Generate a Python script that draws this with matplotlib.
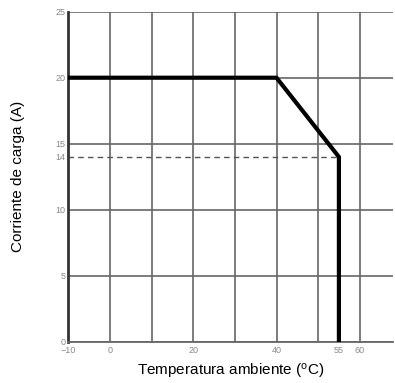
import matplotlib
matplotlib.use("Agg")
import matplotlib.pyplot as plt

plt.rcParams['font.family'] = ['Liberation Sans', 'DejaVu Sans']
plt.rcParams['mathtext.fontset'] = 'custom'
plt.rcParams['mathtext.rm'] = 'Liberation Sans'
plt.rcParams['mathtext.it'] = 'Liberation Sans'

# Data
curve_temp = [-10, 40, 55, 55]
curve_current = [20, 20, 14, 0]
dashed_level = 14
dashed_temp = [-10, 55]
x_grid = [-10, 0, 10, 20, 30, 40, 50, 60]
y_grid = [0, 5, 10, 15, 20, 25]
x_ticklabels = [-10, 0, 20, 40, 55, 60]
y_ticklabels = [0, 5, 10, 14, 15, 20, 25]

fig = plt.figure(figsize=(3.95, 3.83), dpi=100)
ax = fig.add_axes([0.1734, 0.1078, 0.8215, 0.8616])
ax.set_xlim(-10, 68)
ax.set_ylim(0, 25)

for xv in x_grid:
    ax.axvline(xv, color='#666666', lw=1.2, zorder=1)
for yv in y_grid:
    ax.axhline(yv, color='#666666', lw=1.2, zorder=1)

ax.plot(dashed_temp, [dashed_level, dashed_level], color='#555555', lw=1.0,
        dashes=(4, 3), zorder=2)
ax.plot(curve_temp, curve_current, color='black', lw=3.0, zorder=3,
        solid_joinstyle='miter')

for s in ['top', 'right']:
    ax.spines[s].set_visible(False)
ax.spines['left'].set_color('#333333')
ax.spines['left'].set_linewidth(2.0)
ax.spines['bottom'].set_color('#666666')
ax.spines['bottom'].set_linewidth(1.3)

ax.set_xticks(x_ticklabels)
ax.set_xticklabels([('\u2212' + str(abs(v))) if v < 0 else str(v) for v in x_ticklabels])
ax.set_yticks(y_ticklabels)
ax.set_yticklabels([str(v) for v in y_ticklabels])
ax.tick_params(axis='both', length=0, labelsize=6.5, labelcolor='#888888')
ax.tick_params(axis='x', pad=3)
ax.tick_params(axis='y', pad=2)

ax.set_xlabel(r'Temperatura ambiente ($^{\mathrm{o}}$C)', fontsize=11, labelpad=5)
ax.set_ylabel('Corriente de carga (A)', fontsize=11, labelpad=22)

fig.savefig('out.png', dpi=100)
